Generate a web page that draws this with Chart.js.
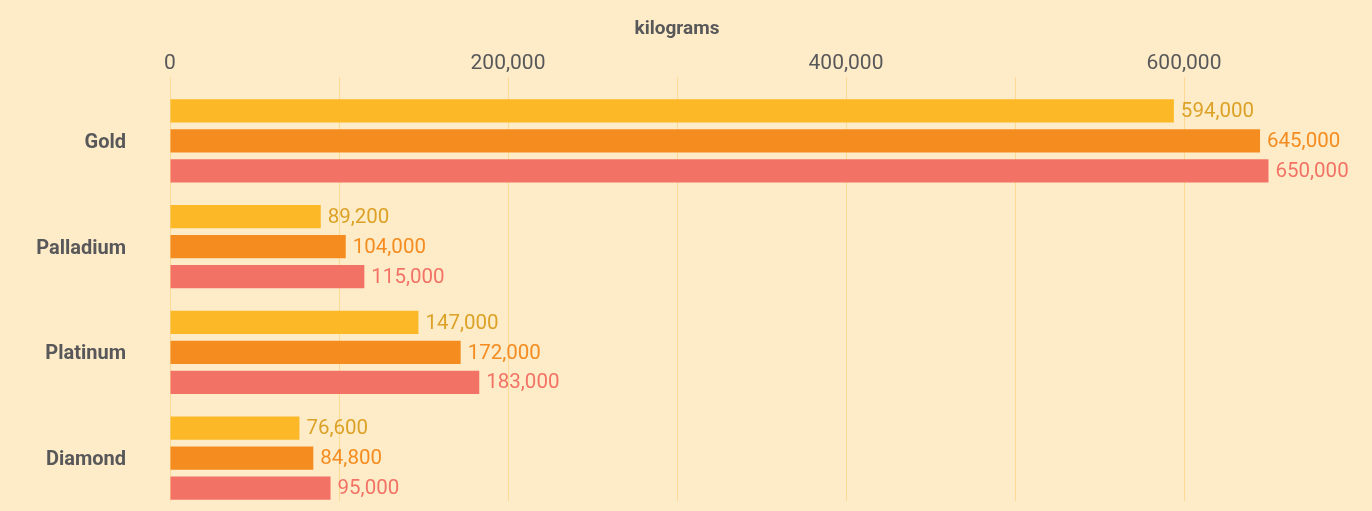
<!DOCTYPE html>
<html>
<head>
<meta charset="utf-8">
<script src="https://cdn.jsdelivr.net/npm/chart.js@4"></script>
<style>
  html, body { margin: 0; padding: 0; background: #feecc8; }
  canvas { display: block; }
</style>
</head>
<body>
<canvas id="c" width="1372" height="511"></canvas>
<script>
const categories = ['Gold', 'Palladium', 'Platinum', 'Diamond'];
const seriesA = [594000, 89200, 147000, 76600];
const seriesB = [645000, 104000, 172000, 84800];
const seriesC = [650000, 115000, 183000, 95000];
const xTicks = [0, 200000, 400000, 600000];
const axisTitle = 'kilograms';

const barColors = ['#fdb827', '#f58c20', '#f27366'];
const labelColors = ['#dca227', '#f58c20', '#f27366'];
const BG = '#feecc8';
const FONT = 'Roboto, "Noto Sans", sans-serif';

const bgPlugin = {
  id: 'bg',
  beforeDraw(chart) {
    const ctx = chart.ctx;
    ctx.save();
    ctx.fillStyle = BG;
    ctx.fillRect(0, 0, chart.width, chart.height);
    ctx.restore();
  },
  beforeDatasetsDraw(chart) {
    const ctx = chart.ctx, a = chart.chartArea;
    ctx.save();
    ctx.fillStyle = BG;
    ctx.fillRect(a.left - 2, 501, a.right - a.left + 4, chart.height - 501);
    ctx.restore();
  }
};

const valueLabels = {
  id: 'valueLabels',
  afterDatasetsDraw(chart) {
    const ctx = chart.ctx;
    ctx.save();
    ctx.font = '20.5px ' + FONT;
    ctx.textAlign = 'left';
    ctx.textBaseline = 'middle';
    chart.data.datasets.forEach((ds, di) => {
      const meta = chart.getDatasetMeta(di);
      meta.data.forEach((bar, i) => {
        ctx.fillStyle = labelColors[di];
        ctx.fillText(ds.data[i].toLocaleString('en-US'), bar.x + 7, bar.y + 1);
      });
    });
    ctx.restore();
  }
};

const makeDs = (label, data, i) => ({
  label, data,
  backgroundColor: barColors[i],
  borderWidth: 0,
  clip: false,
  categoryPercentage: 0.851,
  barPercentage: 0.767
});

new Chart(document.getElementById('c'), {
  type: 'bar',
  data: {
    labels: categories,
    datasets: [
      makeDs('Series A', seriesA, 0),
      makeDs('Series B', seriesB, 1),
      makeDs('Series C', seriesC, 2)
    ]
  },
  plugins: [bgPlugin, valueLabels],
  options: {
    indexAxis: 'y',
    responsive: false,
    animation: false,
    layout: { padding: { left: 0, right: 188, top: 0, bottom: 0 } },
    plugins: { legend: { display: false }, tooltip: { enabled: false } },
    scales: {
      x: {
        position: 'top',
        min: 0,
        max: 600000,
        afterFit(s) { s.height = 88; },
        afterBuildTicks(s) {
          const t = [];
          for (let v = 0; v <= 600000; v += 100000) t.push({ value: v });
          s.ticks = t;
        },
        ticks: {
          color: '#58585a',
          font: { family: FONT, size: 21 },
          padding: 1,
          maxRotation: 0,
          callback: (v) => xTicks.includes(v) ? v.toLocaleString('en-US') : ''
        },
        grid: { color: '#fcd995', lineWidth: 1, tickLength: 11 },
        border: { display: false },
        title: {
          display: true,
          text: axisTitle,
          color: '#58585a',
          font: { family: FONT, size: 19, weight: 'bold' },
          padding: { top: 18, bottom: 6 }
        }
      },
      y: {
        afterFit(s) { s.width = 170; s.paddingTop = 0; s.paddingBottom = 0; },
        grid: { display: false },
        border: { display: false },
        ticks: {
          color: '#58585a',
          font: { family: FONT, size: 20, weight: 'bold' },
          padding: 36,
          labelOffset: 2
        }
      }
    }
  }
});
</script>
</body>
</html>
